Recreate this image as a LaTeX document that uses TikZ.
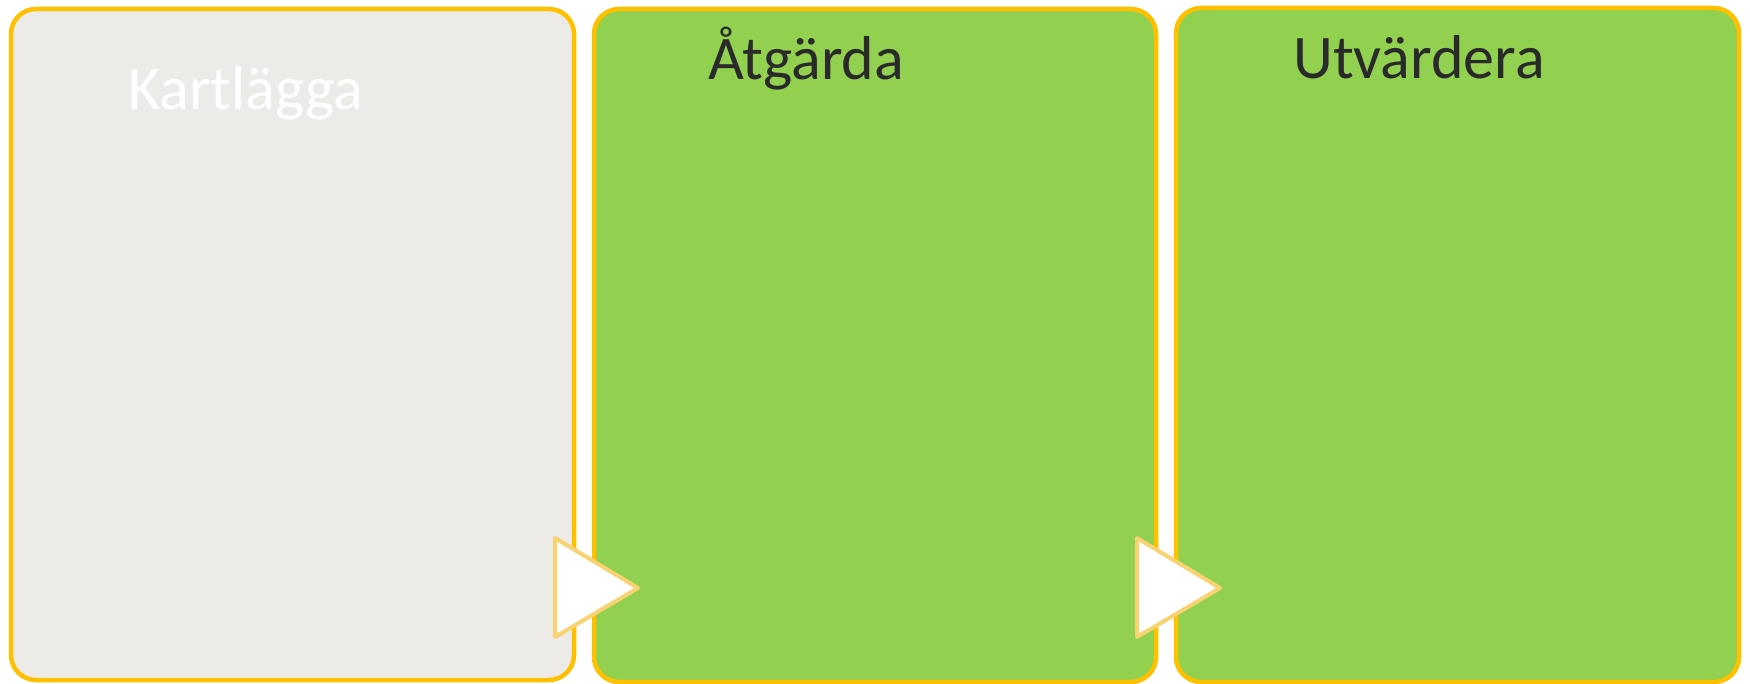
\documentclass[tikz,border=0pt]{standalone}
\usepackage{fontspec}
\setmainfont{Carlito}
\definecolor{boxborder}{HTML}{FFC000}
\definecolor{greyfill}{HTML}{ECEBE7}
\definecolor{greenfill}{HTML}{92D050}
\definecolor{triborder}{HTML}{F9D272}
\definecolor{darktext}{HTML}{2A2A2A}
\tikzset{
  stagebox/.style={draw=boxborder, line width=4.5pt, rounded corners=25pt},
  arrowtri/.style={draw=triborder, fill=white, line width=4pt, line join=round},
  title/.style={font=\fontsize{62}{70}\selectfont, anchor=base west, inner sep=0pt}
}
\begin{document}
\begin{tikzpicture}[x=1pt,y=-1pt]
\useasboundingbox (0,0) rectangle (1750,684);
% boxes
\path[stagebox, fill=greyfill] (11,9) rectangle (574,680);
\path[stagebox, fill=greenfill] (594,9) rectangle (1156,682);
\path[stagebox, fill=greenfill] (1176,8) rectangle (1739,682);
% titles
\node[title, text=white] (t1) at (128,110) {Kartlägga};
\node[title, text=darktext] (t2) at (708,80) {Åtgärda};
\node[title, text=darktext] (t3) at (1293,79) {Utvärdera};
% triangles
\path[arrowtri] (555,538) -- (638,588) -- (555,637) -- cycle;
\path[arrowtri] (1137,538) -- (1220,588) -- (1137,637) -- cycle;
\end{tikzpicture}
\end{document}
